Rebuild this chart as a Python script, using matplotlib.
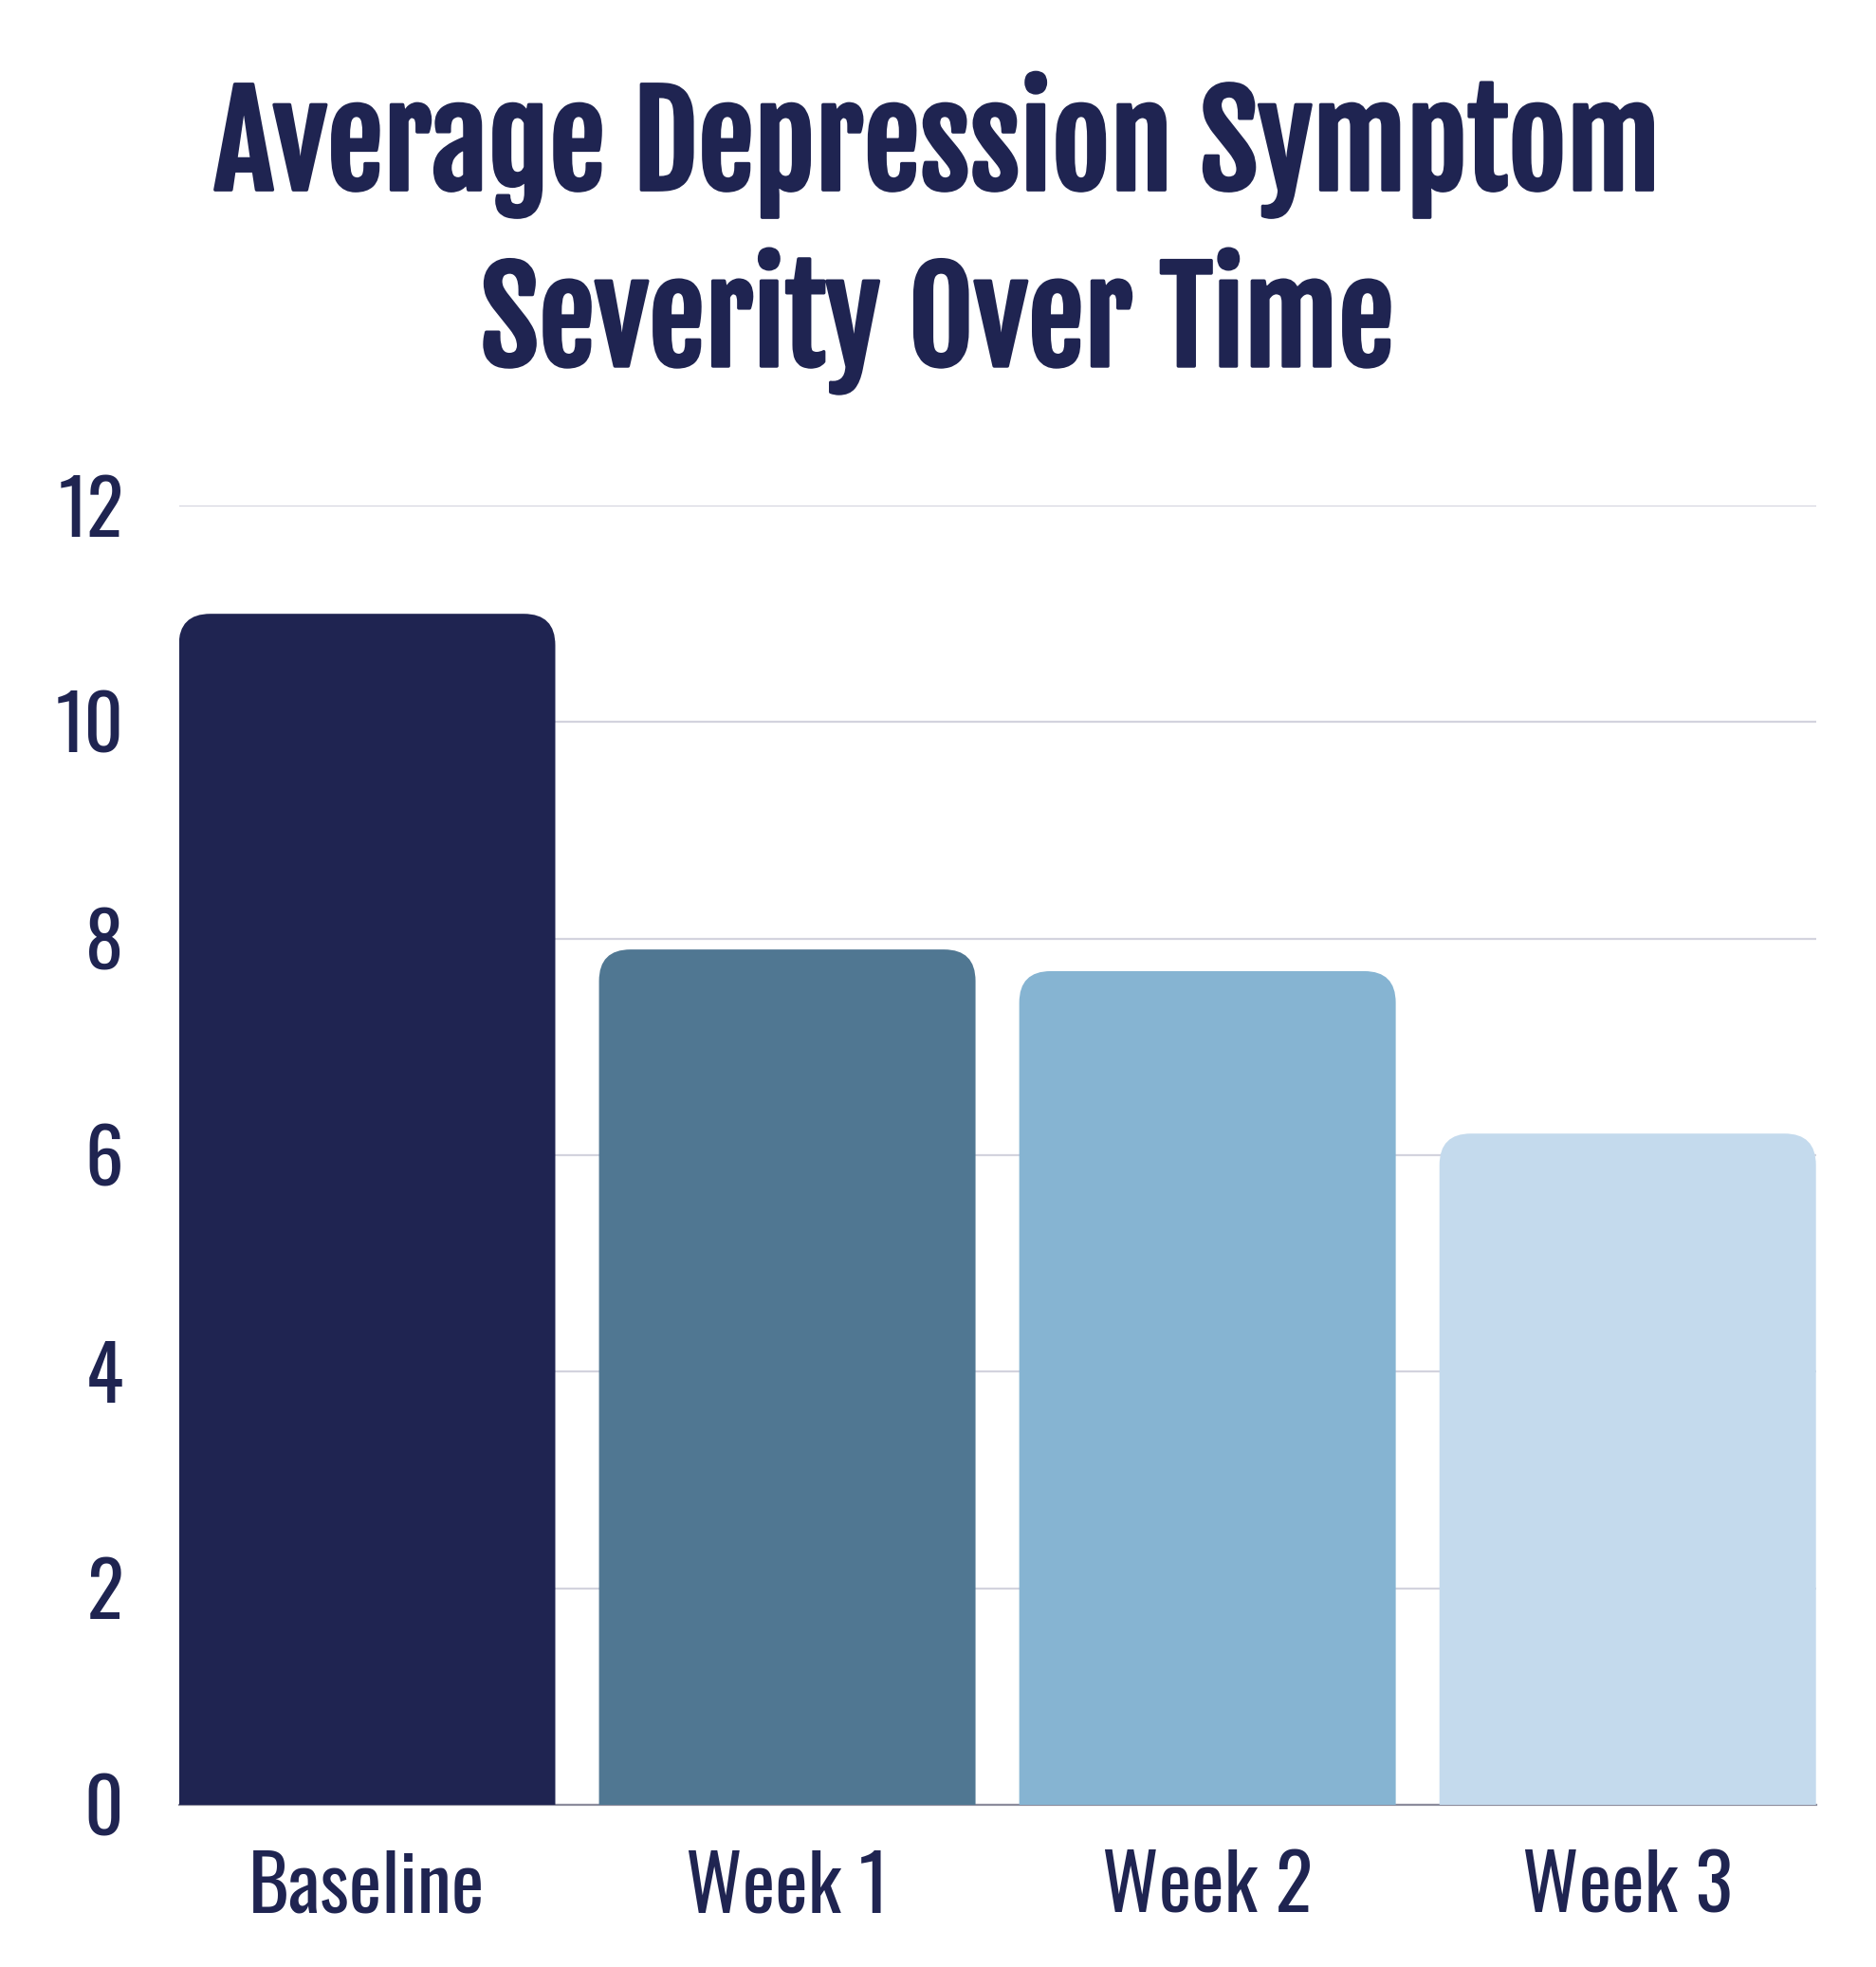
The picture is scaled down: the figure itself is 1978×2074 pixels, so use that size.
import matplotlib
matplotlib.use('Agg')
import matplotlib.pyplot as plt
from matplotlib import font_manager as fm
from matplotlib.patches import FancyBboxPatch
import matplotlib.patheffects as pe

# Data
categories = ['Baseline', 'Week 1', 'Week 2', 'Week 3']
severity = [11.0, 7.9, 7.7, 6.2]
bar_colors = ['#1F2451', '#507792', '#86B4D2', '#C4DAED']
y_ticks = [0, 2, 4, 6, 8, 10, 12]
title_lines = ['Average Depression Symptom', 'Severity Over Time']

navy = '#1F2451'

names = {f.name for f in fm.fontManager.ttflist}
tick_font = ['Oswald' if 'Oswald' in names else 'DejaVu Sans', 'DejaVu Sans']
title_font = ['Fjalla One' if 'Fjalla One' in names else tick_font[0], 'DejaVu Sans']

fig = plt.figure(figsize=(19.78, 20.74), dpi=100)
ax = fig.add_axes([0.0953, 0.0824, 0.8727, 0.6606])

bw = 0.896
x = list(range(len(categories)))
bars = ax.bar(x, severity, width=bw, color='none', zorder=1)

# rounded top corners; bottom corners pushed below y=0 and clipped away
rad = 0.075
aspect = 3.88
for b, c in zip(bars, bar_colors):
    x0, w, h = b.get_x(), b.get_width(), b.get_height()
    ext = rad * aspect * 1.5
    ax.add_patch(FancyBboxPatch((x0, -ext), w, h + ext,
                                boxstyle='round,pad=0,rounding_size=%g' % rad,
                                mutation_aspect=aspect, fc=c, ec='none', zorder=3))

ax.set_xlim(-bw / 2, len(categories) - 1 + bw / 2)
ax.set_ylim(0, 12)
ax.set_yticks(y_ticks)
ax.set_yticklabels([str(t) for t in y_ticks])
ax.set_xticks(x)
ax.set_xticklabels(categories)

ax.grid(axis='y', color='#D3D3DE', linewidth=1.6, zorder=0)
ax.set_axisbelow(True)
for s in ['top', 'right', 'left']:
    ax.spines[s].set_visible(False)
ax.spines['bottom'].set_color('#8C8C9C')
ax.spines['bottom'].set_linewidth(1.6)
ax.spines['bottom'].set_zorder(2)

ax.tick_params(axis='both', length=0, colors=navy)
ax.tick_params(axis='y', pad=42)
ax.tick_params(axis='x', pad=34)
for lab in ax.get_yticklabels():
    lab.set_fontfamily(tick_font)
    lab.set_fontsize(58)
    lab.set_color(navy)
for lab in ax.get_xticklabels():
    lab.set_fontfamily(tick_font)
    lab.set_fontsize(59)
    lab.set_color(navy)

t1 = fig.text(0.5, 0.9035, title_lines[0], ha='center', va='baseline',
              fontsize=100, family=title_font, color=navy)
t2 = fig.text(0.5, 0.8139, title_lines[1], ha='center', va='baseline',
              fontsize=100, family=title_font, color=navy)

# size the title so its first line spans as wide as in the reference
r = fig.canvas.get_renderer()
w1 = t1.get_window_extent(r).width
s = 100 * 1525 / w1
for t in (t1, t2):
    t.set_fontsize(s)
    t.set_path_effects([pe.withStroke(linewidth=2.5, foreground=navy)])

fig.savefig('out.png', dpi=100, facecolor='white')
